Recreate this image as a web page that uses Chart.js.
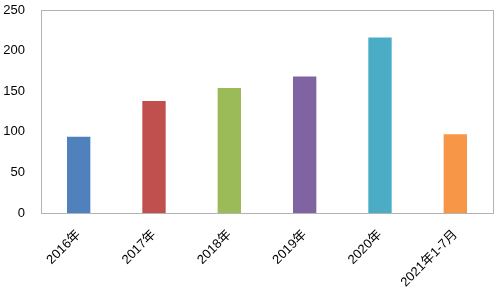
<!DOCTYPE html>
<html>
<head>
<meta charset="utf-8">
<script src="https://cdn.jsdelivr.net/npm/chart.js@4/dist/chart.umd.min.js"></script>
<style>
html,body{margin:0;padding:0;background:#fff;}
#wrap{width:500px;height:294px;position:relative;}
</style>
</head>
<body>
<div id="wrap"><canvas id="c"></canvas></div>
<script>
const categories = ["2016年", "2017年", "2018年", "2019年", "2020年", "2021年1-7月"];
const values = [94, 138, 154, 168, 216, 97];
const barColors = ["#4F81BD", "#C0504D", "#9BBB59", "#8064A2", "#4BACC6", "#F79646"];
const yTicks = [0, 50, 100, 150, 200, 250];

const frame = {
  id: 'frame',
  afterDraw(chart) {
    const a = chart.chartArea, ctx = chart.ctx;
    ctx.save();
    ctx.strokeStyle = '#B3B3B3';
    ctx.lineWidth = 1;
    ctx.strokeRect(Math.round(a.left) + 0.5, Math.round(a.top) + 0.5,
                   Math.round(a.right - a.left), Math.round(a.bottom - a.top));
    ctx.restore();
  }
};

new Chart(document.getElementById('c'), {
  type: 'bar',
  data: {
    labels: categories,
    datasets: [{
      data: values,
      backgroundColor: barColors,
      borderWidth: 0,
      categoryPercentage: 1,
      barPercentage: 0.31
    }]
  },
  options: {
    responsive: true,
    maintainAspectRatio: false,
    animation: false,
    layout: { padding: { top: 10, right: 7, left: 0, bottom: 0 } },
    plugins: { legend: { display: false }, tooltip: { enabled: false } },
    scales: {
      x: {
        grid: { display: false, drawTicks: false },
        border: { display: false },
        ticks: {
          color: '#000',
          font: { family: 'Liberation Sans, Noto Sans CJK SC', size: 13 },
          minRotation: 45, maxRotation: 45, padding: 14
        },
        afterFit(s) { s.height = 81; s.paddingLeft = 0; s.paddingRight = 0; }
      },
      y: {
        min: 0, max: 250,
        afterBuildTicks(s) { s.ticks = yTicks.map(v => ({ value: v })); },
        grid: { display: false, drawTicks: false },
        border: { display: false },
        ticks: {
          color: '#000',
          font: { family: 'Liberation Sans', size: 13 },
          padding: 16
        },
        afterFit(s) { s.width = 41; s.paddingTop = 0; s.paddingBottom = 0; }
      }
    }
  },
  plugins: [frame]
});
</script>
</body>
</html>
